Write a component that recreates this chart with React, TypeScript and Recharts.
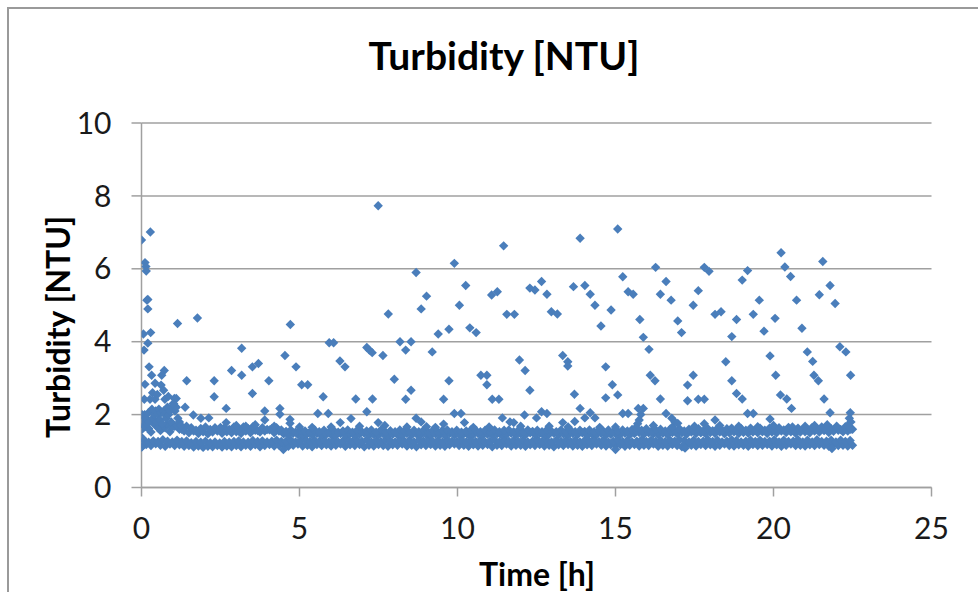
import React from 'react';
import { ScatterChart, Scatter, XAxis, YAxis, CartesianGrid } from 'recharts';

// Time ticks and value ticks
const xTicks = [0, 5, 10, 15, 20, 25];
const yTicks = [0, 2, 4, 6, 8, 10];

// Dense baseline band, first set of readings
const bandTimes = [
  0, 0.15, 0.3, 0.45, 0.6, 0.75, 0.9, 1.05, 1.2, 1.35,
  1.5, 1.65, 1.8, 1.95, 2.1, 2.25, 2.4, 2.55, 2.7, 2.85,
  3, 3.15, 3.3, 3.45, 3.6, 3.75, 3.9, 4.05, 4.2, 4.35,
  4.5, 4.65, 4.8, 4.95, 5.1, 5.25, 5.4, 5.55, 5.7, 5.85,
  6, 6.15, 6.3, 6.45, 6.6, 6.75, 6.9, 7.05, 7.2, 7.35,
  7.5, 7.65, 7.8, 7.95, 8.1, 8.25, 8.4, 8.55, 8.7, 8.85,
  9, 9.15, 9.3, 9.45, 9.6, 9.75, 9.9, 10.05, 10.2, 10.35,
  10.5, 10.65, 10.8, 10.95, 11.1, 11.25, 11.4, 11.55, 11.7, 11.85,
  12, 12.15, 12.3, 12.45, 12.6, 12.75, 12.9, 13.05, 13.2, 13.35,
  13.5, 13.65, 13.8, 13.95, 14.1, 14.25, 14.4, 14.55, 14.7, 14.85,
  15, 15.15, 15.3, 15.45, 15.6, 15.75, 15.9, 16.05, 16.2, 16.35,
  16.5, 16.65, 16.8, 16.95, 17.1, 17.25, 17.4, 17.55, 17.7, 17.85,
  18, 18.15, 18.3, 18.45, 18.6, 18.75, 18.9, 19.05, 19.2, 19.35,
  19.5, 19.65, 19.8, 19.95, 20.1, 20.25, 20.4, 20.55, 20.7, 20.85,
  21, 21.15, 21.3, 21.45, 21.6, 21.75, 21.9, 22.05, 22.2, 22.35,
  22.5,
];
const bandLow = [
  1.12, 1.18, 1.15, 1.2, 1.16, 1.13, 1.19, 1.15, 1.17, 1.13,
  1.15, 1.11, 1.14, 1.1, 1.13, 1.12, 1.15, 1.11, 1.14, 1.12,
  1.15, 1.12, 1.16, 1.13, 1.17, 1.12, 1.15, 1.18, 1.14, 1.16,
  1.17, 1.13, 1.16, 1.19, 1.14, 1.16, 1.12, 1.18, 1.15, 1.17,
  1.14, 1.16, 1.19, 1.13, 1.17, 1.15, 1.18, 1.12, 1.16, 1.14,
  1.18, 1.15, 1.13, 1.17, 1.16, 1.19, 1.14, 1.16, 1.12, 1.17,
  1.15, 1.18, 1.14, 1.16, 1.13, 1.17, 1.19, 1.15, 1.16, 1.13,
  1.17, 1.14, 1.16, 1.18, 1.12, 1.16, 1.15, 1.19, 1.14, 1.16,
  1.16, 1.13, 1.17, 1.15, 1.18, 1.14, 1.16, 1.12, 1.17, 1.15,
  1.18, 1.14, 1.16, 1.13, 1.17, 1.15, 1.19, 1.16, 1.14, 1.17,
  1.15, 1.17, 1.13, 1.16, 1.18, 1.14, 1.16, 1.15, 1.19, 1.13,
  1.16, 1.14, 1.18, 1.15, 1.12, 1.17, 1.16, 1.14, 1.18, 1.15,
  1.17, 1.13, 1.16, 1.19, 1.15, 1.14, 1.17, 1.16, 1.13, 1.18,
  1.15, 1.16, 1.18, 1.14, 1.17, 1.13, 1.16, 1.19, 1.15, 1.16,
  1.14, 1.17, 1.15, 1.18, 1.16, 1.13, 1.17, 1.15, 1.16, 1.14,
  1.16,
];
const bandHigh = [
  1.58, 1.66, 1.52, 1.7, 1.56, 1.64, 1.53, 1.68, 1.6, 1.55,
  1.5, 1.55, 1.48, 1.53, 1.47, 1.52, 1.55, 1.49, 1.53, 1.5,
  1.53, 1.48, 1.55, 1.5, 1.57, 1.52, 1.55, 1.58, 1.5, 1.55,
  1.47, 1.44, 1.49, 1.45, 1.43, 1.47, 1.44, 1.48, 1.43, 1.46,
  1.45, 1.43, 1.48, 1.44, 1.47, 1.43, 1.46, 1.49, 1.43, 1.45,
  1.44, 1.47, 1.43, 1.46, 1.45, 1.43, 1.48, 1.44, 1.47, 1.45,
  1.46, 1.43, 1.47, 1.45, 1.43, 1.48, 1.44, 1.45, 1.47, 1.43,
  1.45, 1.48, 1.43, 1.46, 1.44, 1.47, 1.43, 1.45, 1.49, 1.44,
  1.47, 1.44, 1.5, 1.45, 1.48, 1.43, 1.46, 1.49, 1.45, 1.47,
  1.44, 1.48, 1.45, 1.5, 1.43, 1.47, 1.45, 1.48, 1.44, 1.46,
  1.47, 1.45, 1.49, 1.44, 1.48, 1.51, 1.46, 1.5, 1.47, 1.45,
  1.49, 1.45, 1.51, 1.47, 1.5, 1.46, 1.52, 1.48, 1.5, 1.47,
  1.51, 1.48, 1.52, 1.47, 1.5, 1.53, 1.48, 1.51, 1.49, 1.52,
  1.5, 1.53, 1.48, 1.52, 1.5, 1.55, 1.51, 1.53, 1.49, 1.52,
  1.53, 1.5, 1.55, 1.52, 1.56, 1.51, 1.54, 1.57, 1.53, 1.55,
  1.6,
];

// Dense baseline band, interleaved second set of readings
const bandTimesB = [
  0.075, 0.225, 0.375, 0.525, 0.675, 0.825, 0.975, 1.125, 1.275, 1.425,
  1.575, 1.725, 1.875, 2.025, 2.175, 2.325, 2.475, 2.625, 2.775, 2.925,
  3.075, 3.225, 3.375, 3.525, 3.675, 3.825, 3.975, 4.125, 4.275, 4.425,
  4.575, 4.725, 4.875, 5.025, 5.175, 5.325, 5.475, 5.625, 5.775, 5.925,
  6.075, 6.225, 6.375, 6.525, 6.675, 6.825, 6.975, 7.125, 7.275, 7.425,
  7.575, 7.725, 7.875, 8.025, 8.175, 8.325, 8.475, 8.625, 8.775, 8.925,
  9.075, 9.225, 9.375, 9.525, 9.675, 9.825, 9.975, 10.125, 10.275, 10.425,
  10.575, 10.725, 10.875, 11.025, 11.175, 11.325, 11.475, 11.625, 11.775, 11.925,
  12.075, 12.225, 12.375, 12.525, 12.675, 12.825, 12.975, 13.125, 13.275, 13.425,
  13.575, 13.725, 13.875, 14.025, 14.175, 14.325, 14.475, 14.625, 14.775, 14.925,
  15.075, 15.225, 15.375, 15.525, 15.675, 15.825, 15.975, 16.125, 16.275, 16.425,
  16.575, 16.725, 16.875, 17.025, 17.175, 17.325, 17.475, 17.625, 17.775, 17.925,
  18.075, 18.225, 18.375, 18.525, 18.675, 18.825, 18.975, 19.125, 19.275, 19.425,
  19.575, 19.725, 19.875, 20.025, 20.175, 20.325, 20.475, 20.625, 20.775, 20.925,
  21.075, 21.225, 21.375, 21.525, 21.675, 21.825, 21.975, 22.125, 22.275, 22.425,
];
const bandLowB = [
  1.3, 1.24, 1.28, 1.26, 1.31, 1.27, 1.25, 1.3, 1.26, 1.28,
  1.23, 1.26, 1.24, 1.27, 1.23, 1.25, 1.22, 1.26, 1.24, 1.26,
  1.28, 1.25, 1.24, 1.29, 1.26, 1.28, 1.25, 1.27, 1.3, 1.26,
  1.27, 1.3, 1.25, 1.28, 1.31, 1.26, 1.29, 1.27, 1.3, 1.25,
  1.3, 1.25, 1.28, 1.31, 1.26, 1.29, 1.27, 1.3, 1.25, 1.28,
  1.26, 1.3, 1.28, 1.25, 1.31, 1.27, 1.29, 1.25, 1.3, 1.27,
  1.3, 1.26, 1.29, 1.25, 1.3, 1.27, 1.26, 1.31, 1.25, 1.29,
  1.26, 1.3, 1.25, 1.27, 1.3, 1.25, 1.31, 1.27, 1.29, 1.26,
  1.3, 1.25, 1.27, 1.31, 1.26, 1.29, 1.25, 1.3, 1.27, 1.29,
  1.26, 1.3, 1.25, 1.29, 1.27, 1.31, 1.26, 1.3, 1.25, 1.27,
  1.3, 1.26, 1.29, 1.25, 1.27, 1.31, 1.26, 1.3, 1.27, 1.29,
  1.26, 1.3, 1.27, 1.31, 1.29, 1.25, 1.3, 1.26, 1.27, 1.31,
  1.26, 1.3, 1.25, 1.27, 1.31, 1.29, 1.25, 1.27, 1.3, 1.26,
  1.3, 1.26, 1.27, 1.31, 1.25, 1.3, 1.26, 1.27, 1.31, 1.25,
  1.3, 1.25, 1.31, 1.26, 1.27, 1.3, 1.25, 1.3, 1.26, 1.29,
];
const bandHighB = [
  1.7, 1.62, 1.77, 1.64, 1.69, 1.74, 1.66, 1.7, 1.6, 1.68,
  1.64, 1.57, 1.62, 1.66, 1.59, 1.64, 1.56, 1.64, 1.59, 1.66,
  1.59, 1.66, 1.61, 1.67, 1.56, 1.64, 1.59, 1.62, 1.64, 1.58,
  1.54, 1.58, 1.52, 1.57, 1.55, 1.52, 1.58, 1.53, 1.57, 1.52,
  1.57, 1.52, 1.55, 1.58, 1.52, 1.57, 1.53, 1.55, 1.58, 1.52,
  1.58, 1.52, 1.56, 1.53, 1.58, 1.55, 1.52, 1.57, 1.53, 1.57,
  1.52, 1.57, 1.53, 1.57, 1.58, 1.53, 1.57, 1.52, 1.55, 1.58,
  1.57, 1.53, 1.57, 1.52, 1.58, 1.53, 1.57, 1.58, 1.53, 1.57,
  1.53, 1.58, 1.54, 1.57, 1.53, 1.58, 1.54, 1.53, 1.58, 1.53,
  1.58, 1.53, 1.57, 1.54, 1.58, 1.53, 1.57, 1.54, 1.58, 1.53,
  1.54, 1.58, 1.55, 1.59, 1.54, 1.57, 1.61, 1.54, 1.58, 1.6,
  1.55, 1.6, 1.56, 1.61, 1.55, 1.6, 1.56, 1.61, 1.55, 1.61,
  1.56, 1.62, 1.57, 1.61, 1.63, 1.56, 1.62, 1.57, 1.63, 1.56,
  1.63, 1.57, 1.63, 1.58, 1.64, 1.58, 1.65, 1.57, 1.63, 1.58,
  1.58, 1.65, 1.59, 1.66, 1.58, 1.61, 1.65, 1.59, 1.67, 1.61,
];

// Start-up burst in the first hour
const earlyTimes = [
  0.09, 0.27, 0.43, 0.74, 1.04, 1.1, 0.02, 0.05, 0.08, 0.1,
  0.15, 0.18, 0.22, 0.25, 0.33, 0.36, 0.4, 0.45, 0.48, 0.52,
  0.55, 0.58, 0.62, 0.66, 0.7, 0.74, 0.78, 0.82, 0.86, 0.9,
  0.94, 0.98, 1.02, 1.06, 1.1, 1.15, 1.2, 1.25, 0, 0,
  0.03, 0.35, 0.5, 0.85, 1.0,
];
const earlyValues = [
  2.42, 2.42, 2.42, 2.42, 2.44, 2.44, 2.0, 1.85, 1.7, 2.0,
  1.9, 1.75, 2.05, 1.8, 2.15, 1.9, 2.0, 2.1, 1.8, 2.0,
  2.15, 1.85, 2.05, 1.75, 2.1, 2.0, 1.9, 2.2, 2.0, 2.1,
  1.8, 2.2, 2.3, 2.1, 2.2, 1.9, 1.8, 1.7, 1.2, 1.1,
  1.35, 2.6, 2.55, 2.5, 2.3,
];

// Small excursions just above / below the band
const minorTimes = [
  2.5, 3.0, 3.3, 3.6, 4.2, 5.0, 5.4, 6.0, 6.9, 7.7,
  8.4, 9.3, 10.5, 11.0, 12.0, 12.9, 13.5, 14.5, 15.0, 16.2,
  16.8, 17.5, 18.3, 18.9, 19.5, 20.0, 20.6, 21.0, 21.3, 21.7,
  22.0, 22.45, 4.49, 15.0, 17.2, 21.85,
];
const minorValues = [
  1.65, 1.7, 1.68, 1.72, 1.68, 1.66, 1.65, 1.66, 1.68, 1.7,
  1.66, 1.65, 1.65, 1.66, 1.68, 1.68, 1.66, 1.65, 1.66, 1.7,
  1.66, 1.68, 1.7, 1.68, 1.67, 1.7, 1.66, 1.68, 1.7, 1.72,
  1.68, 1.6, 1.04, 1.04, 1.08, 1.07,
];

// Turbidity spikes
const spikeTimes = [
  0.0, 0.28, 0.11, 0.14, 0.15, 0.17, 0.2, 0.2, 0.06, 0.29,
  0.2, 0.08, 1.14, 1.77, 0.24, 0.32, 0.72, 0.64, 0.11, 0.43,
  0.62, 0.7, 1.43, 2.3, 2.3, 2.85, 3.17, 3.17, 3.51, 3.7,
  3.51, 4.03, 2.68, 1.38, 1.64, 1.88, 2.13, 2.68, 3.9, 3.9,
  7.49, 7.81, 4.71, 8.18, 5.94, 6.08, 7.13, 7.21, 7.3, 4.54,
  7.64, 4.89, 6.28, 6.44, 5.07, 5.26, 8.0, 5.75, 6.78, 7.31,
  4.38, 4.38, 4.7, 4.7, 5.58, 5.91, 6.29, 6.63, 7.13, 7.49,
  11.46, 9.9, 8.69, 10.26, 9.02, 8.85, 10.06, 11.08, 11.26, 12.29,
  11.56, 11.8, 9.39, 9.73, 10.39, 10.59, 8.53, 8.36, 9.2, 9.73,
  10.74, 10.93, 10.93, 11.96, 12.14, 12.29, 8.53, 8.36, 9.56, 11.1,
  11.31, 9.9, 10.11, 12.12, 8.69, 8.85, 9.02, 9.56, 10.22, 11.42,
  11.66, 11.78,
  15.07, 13.88, 16.27, 15.23, 12.66, 12.45, 13.67, 14.03, 12.83, 14.2,
  15.4, 15.56, 16.42, 14.35, 14.86, 12.97, 13.16, 14.54, 15.77, 15.88,
  16.06, 13.33, 13.49, 13.49, 14.69, 14.9, 16.1, 16.25, 13.7, 14.69,
  15.07, 16.42, 13.88, 12.5, 12.66, 12.83, 13.33, 13.71, 14.03, 14.2,
  14.35, 15.23, 15.4, 15.72, 15.88, 15.8, 15.75, 15.7, 15.65,
  20.24, 17.81, 17.96, 20.36, 20.54, 16.6, 19.18, 19.01, 17.62, 16.76,
  17.46, 19.55, 18.15, 18.34, 19.36, 16.97, 17.09, 18.83, 18.68, 19.7,
  20.05, 19.89, 18.49, 18.68, 20.07, 17.28, 17.46, 18.83, 19.01, 17.28,
  17.62, 17.81, 20.22, 20.42, 20.57, 16.6, 16.78, 16.88, 16.97, 19.18,
  19.36, 19.89, 18.15, 17.81,
  21.56, 21.79, 21.45, 21.95, 20.73, 20.9, 22.1, 22.29, 21.07, 21.24,
  21.28, 21.42, 22.44, 21.6, 21.79, 22.43, 22.4, 22.45, 22.35,
];
const spikeValues = [
  6.79, 7.01, 6.17, 6.06, 5.94, 5.14, 5.16, 4.9, 4.21, 4.25,
  3.96, 3.77, 4.5, 4.65, 3.31, 3.08, 3.21, 3.08, 2.83, 2.86,
  2.81, 2.67, 2.93, 2.93, 2.49, 3.21, 3.82, 3.08, 3.31, 3.4,
  2.58, 2.93, 2.17, 2.2, 1.99, 1.9, 1.91, 1.78, 2.1, 1.85,
  7.73, 4.76, 4.47, 4.0, 3.97, 3.97, 3.84, 3.77, 3.7, 3.62,
  3.62, 3.31, 3.47, 3.31, 2.82, 2.82, 2.97, 2.49, 2.43, 2.43,
  2.17, 2.01, 1.87, 1.76, 2.03, 2.03, 1.78, 1.89, 2.08, 1.78,
  6.63, 6.15, 5.9, 5.54, 5.25, 4.9, 5.0, 5.28, 5.37, 5.47,
  4.75, 4.75, 4.21, 4.34, 4.38, 4.25, 4.0, 3.77, 3.72, 2.93,
  3.08, 3.08, 2.82, 3.5, 3.21, 2.67, 2.67, 2.42, 2.42, 2.42,
  2.42, 2.03, 2.03, 1.99, 1.9, 1.8, 1.67, 1.74, 1.78, 1.91,
  1.8, 1.78,
  7.09, 6.84, 6.04, 5.78, 5.65, 5.42, 5.51, 5.54, 5.3, 5.3,
  5.37, 5.3, 5.3, 5.0, 4.87, 4.82, 4.76, 4.43, 4.61, 4.12,
  3.79, 3.62, 3.45, 3.33, 3.31, 2.82, 3.08, 2.93, 2.56, 2.46,
  2.54, 2.43, 2.17, 1.91, 2.08, 2.03, 1.78, 1.81, 1.91, 2.05,
  1.91, 2.03, 2.03, 2.17, 2.17, 2.0, 1.85, 1.75, 1.65,
  6.44, 6.04, 5.93, 6.05, 5.79, 5.65, 5.95, 5.69, 5.4, 5.14,
  5.0, 5.14, 4.75, 4.82, 4.75, 4.57, 4.25, 4.61, 4.14, 4.29,
  4.64, 3.61, 3.45, 2.93, 3.08, 2.81, 3.08, 2.58, 2.43, 2.38,
  2.42, 2.42, 2.54, 2.43, 2.17, 2.03, 1.9, 1.8, 1.76, 2.03,
  2.03, 1.88, 1.85, 1.75,
  6.2, 5.54, 5.29, 5.05, 5.14, 4.37, 3.86, 3.72, 3.72, 3.46,
  3.08, 2.93, 3.08, 2.43, 2.05, 2.05, 1.9, 1.8, 1.7,
];

const toPoints = (ts: number[], vs: number[]) => ts.map((t, i) => ({ t, v: vs[i] }));

const data = [
  ...toPoints(bandTimes, bandLow),
  ...toPoints(bandTimesB, bandLowB),
  ...toPoints(bandTimes, bandHigh),
  ...toPoints(bandTimesB, bandHighB),
  ...toPoints(minorTimes, minorValues),
  ...toPoints(earlyTimes, earlyValues),
  ...toPoints(spikeTimes, spikeValues),
];

const MARKER = '#4a7ebb';
const GRID = '#a0a0a0';
const FONT = 'Lato, "Open Sans", sans-serif';

const Diamond = (props: any) => {
  const { cx, cy } = props;
  if (cx == null || cy == null) return <g />;
  const r = 4.7;
  return (
    <path
      d={`M${cx},${cy - r}L${cx + r},${cy}L${cx},${cy + r}L${cx - r},${cy}Z`}
      fill={MARKER}
    />
  );
};

export default function App() {
  return (
    <div style={{ position: 'fixed', left: 0, top: 0, width: 978, height: 592, background: '#fff', overflow: 'hidden' }}>
      <div
        style={{
          position: 'absolute',
          left: 7,
          top: 7,
          width: 1100,
          height: 800,
          border: '2px solid #9a9a9a',
          boxSizing: 'border-box',
        }}
      />
      <div style={{ position: 'absolute', left: 0, top: 0 }}>
        <ScatterChart width={978} height={592} margin={{ top: 123, right: 46.5, bottom: 74.5, left: 81.5 }}>
          <CartesianGrid horizontal vertical={false} stroke={GRID} strokeWidth={1.5} />
          <XAxis
            type="number"
            dataKey="t"
            domain={[0, 25]}
            ticks={xTicks}
            allowDataOverflow
            height={30}
            tickSize={9}
            tickMargin={21}
            stroke={GRID}
            strokeWidth={1.5}
            tick={{ fill: '#1a1a1a', fontSize: 30, fontFamily: FONT }}
          />
          <YAxis
            type="number"
            dataKey="v"
            domain={[0, 10]}
            ticks={yTicks}
            allowDataOverflow
            width={60}
            tickSize={10}
            tickMargin={20}
            stroke={GRID}
            strokeWidth={1.5}
            tick={{ fill: '#1a1a1a', fontSize: 30, fontFamily: FONT }}
          />
          <Scatter data={data} shape={Diamond} fill={MARKER} isAnimationActive={false} />
        </ScatterChart>
      </div>
      <svg width={978} height={592} style={{ position: 'absolute', left: 0, top: 0, pointerEvents: 'none' }}>
        <text x={504} y={70} textAnchor="middle" fontSize={39} fontWeight={700} fontFamily={FONT} fill="#000">
          Turbidity [NTU]
        </text>
        <text x={537} y={586} textAnchor="middle" fontSize={32} fontWeight={700} fontFamily={FONT} fill="#000">
          Time [h]
        </text>
        <text
          transform="translate(70,327) rotate(-90)"
          textAnchor="middle"
          fontSize={32}
          fontWeight={700}
          fontFamily={FONT}
          fill="#000"
        >
          Turbidity [NTU]
        </text>
      </svg>
    </div>
  );
}
